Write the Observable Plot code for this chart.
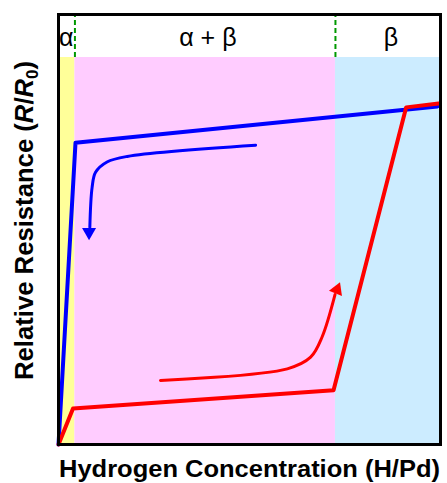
<!DOCTYPE html>
<html><head><meta charset="utf-8">
<script src="https://cdn.jsdelivr.net/npm/d3@7"></script>
<script src="https://cdn.jsdelivr.net/npm/@observablehq/plot@0.6"></script>
<style>body{margin:0;background:#fff;} #c{position:relative;width:447px;height:483px;}</style>
</head><body><div id="c"></div>
<script>
// Phase regions (x in normalized H/Pd, y in normalized R/R0)
const regions = [
  {name: "α", x1: 0, x2: 0.043, color: "#FFFF99"},
  {name: "α + β", x1: 0.043, x2: 0.725, color: "#FFCCFF"},
  {name: "β", x1: 0.725, x2: 1, color: "#CCECFF"}
];
const regionTop = 0.9;
const boundaries = [0.043, 0.725];
const labelX = [0.02, 0.391, 0.87];

// Blue curve (desorption)
const blueX = [0, 0.0445, 0.992];
const blueY = [0, 0.702, 0.786];
// Red curve (absorption)
const redX = [0, 0.038, 0.72, 0.910, 0.995];
const redY = [0, 0.084, 0.126, 0.784, 0.793];

// Blue arrow path
const blueArrX = [0.516, 0.180, 0.127, 0.097, 0.088, 0.082];
const blueArrY = [0.696, 0.670, 0.657, 0.633, 0.598, 0.505];
const blueHead = {x: 0.080, y: 0.494, rotate: 180};
// Red arrow path
const redArrX = [0.267, 0.599, 0.660, 0.690, 0.724];
const redArrY = [0.149, 0.176, 0.203, 0.250, 0.349];
const redHead = {x: 0.729, y: 0.360, rotate: 22};

const pts = (xs, ys) => xs.map((x, i) => ({x, y: ys[i]}));

const chart = Plot.plot({
  width: 447, height: 483,
  marginLeft: 58, marginRight: 7, marginTop: 14, marginBottom: 39,
  x: {domain: [0, 1], axis: null},
  y: {domain: [0, 1], axis: null},
  style: {fontFamily: "Liberation Sans, Arial, sans-serif", background: "white"},
  marks: [
    Plot.rectY(regions, {x1: "x1", x2: "x2", y1: 0, y2: regionTop, fill: "color"}),
    Plot.ruleX(boundaries, {y1: regionTop, y2: 1, stroke: "#009900", strokeWidth: 2, strokeDasharray: "5,3"}),
    Plot.text(regions, {x: (d, i) => labelX[i], y: 0.946, text: "name", fontSize: 25, fill: "black"}),
    Plot.line(pts(blueX, blueY), {x: "x", y: "y", stroke: "#0000FF", strokeWidth: 4}),
    Plot.line(pts(redX, redY), {x: "x", y: "y", stroke: "#FF0000", strokeWidth: 4}),
    Plot.line(pts(blueArrX, blueArrY), {x: "x", y: "y", stroke: "#0000FF", strokeWidth: 3, curve: "catmull-rom"}),
    Plot.line(pts(redArrX, redArrY), {x: "x", y: "y", stroke: "#FF0000", strokeWidth: 3, curve: "catmull-rom"}),
    Plot.dot([blueHead], {x: "x", y: "y", rotate: "rotate", symbol: "triangle", r: 5.2, fill: "#0000FF", stroke: "none"}),
    Plot.dot([redHead], {x: "x", y: "y", rotate: "rotate", symbol: "triangle", r: 5.2, fill: "#FF0000", stroke: "none"}),
    Plot.frame({stroke: "black", strokeWidth: 3})
  ]
});
document.getElementById("c").appendChild(chart);

const svg = d3.select(chart);
svg.append("text")
  .attr("x", 59).attr("y", 477)
  .attr("text-anchor", "start")
  .attr("font-family", "Liberation Sans, Arial, sans-serif")
  .attr("font-weight", "bold").attr("font-size", 23).attr("fill", "black")
  .attr("textLength", 381).attr("lengthAdjust", "spacingAndGlyphs")
  .text("Hydrogen Concentration (H/Pd)");
const yl = svg.append("text")
  .attr("transform", "translate(32.5,380) rotate(-90)")
  .attr("text-anchor", "start")
  .attr("font-family", "Liberation Sans, Arial, sans-serif")
  .attr("font-weight", "bold").attr("font-size", 26).attr("fill", "black")
  .attr("textLength", 319).attr("lengthAdjust", "spacingAndGlyphs");
yl.append("tspan").text("Relative Resistance (");
yl.append("tspan").attr("font-style", "italic").text("R");
yl.append("tspan").text("/");
yl.append("tspan").attr("font-style", "italic").text("R");
yl.append("tspan").attr("font-size", 17).attr("dy", 5).text("0");
yl.append("tspan").attr("dy", -5).text(")");
</script></body></html>
